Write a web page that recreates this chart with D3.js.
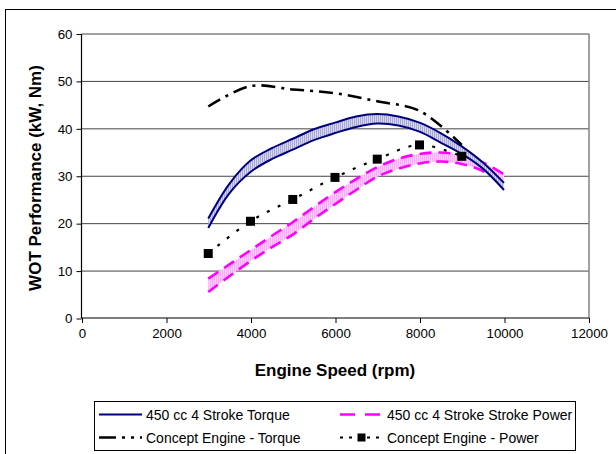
<!DOCTYPE html>
<html>
<head>
<meta charset="utf-8">
<script src="https://cdn.jsdelivr.net/npm/d3@7"></script>
<style>
  html, body { margin: 0; padding: 0; background: #fff; }
  svg { display: block; font-family: "Liberation Sans", Arial, sans-serif; }
</style>
</head>
<body>
<svg id="chart" width="616" height="454"></svg>
<script>
// ---- data ----
const rpm = [3000, 3500, 4000, 4500, 5000, 5500, 6000, 6500, 7000, 7500, 8000, 8500, 9000, 9500, 10000];
const torque450Upper = [21.0, 28.3, 33.2, 35.8, 37.8, 39.8, 41.2, 42.5, 43.0, 42.5, 41.2, 39.0, 36.2, 32.8, 28.5];
const torque450Lower = [19.0, 26.3, 30.8, 33.5, 35.5, 37.5, 39.0, 40.3, 41.0, 40.6, 39.3, 37.0, 34.6, 31.5, 27.0];
const power450Upper = [8.3, 11.3, 14.3, 17.3, 20.2, 23.4, 26.5, 29.3, 31.8, 33.6, 34.6, 34.9, 34.3, 32.8, 30.3];
const power450Lower = [5.5, 8.8, 12.0, 14.9, 17.6, 20.9, 24.0, 27.0, 29.8, 31.5, 32.6, 33.0, 32.5, 31.0, 28.2];
const conceptRpm = [3000, 4000, 5000, 6000, 7000, 8000, 9000];
const conceptTorque = [44.6, 48.9, 48.2, 47.4, 45.7, 43.7, 36.5];
const conceptPower = [13.6, 20.4, 25.0, 29.65, 33.5, 36.5, 34.1];
const xTicks = [0, 2000, 4000, 6000, 8000, 10000, 12000];
const yTicks = [0, 10, 20, 30, 40, 50, 60];
const seriesNames = ["450 cc 4 Stroke Torque", "450 cc 4 Stroke Stroke Power", "Concept Engine - Torque", "Concept Engine - Power"];

// ---- layout ----
const svg = d3.select("#chart");
const pL = 81.5, pR = 588.5, pT = 33.5, pB = 318;
const x = d3.scaleLinear().domain([0, 12000]).range([pL, pR]);
const y = d3.scaleLinear().domain([0, 60]).range([pB, pT]);

// outer chart border (only left/top visible)
svg.append("rect").attr("x", 5.5).attr("y", 9.5).attr("width", 700).attr("height", 600)
  .attr("fill", "#fff").attr("stroke", "#000").attr("stroke-width", 1);

// patterns
const defs = svg.append("defs");
const pBlue = defs.append("pattern").attr("id", "hatchBlue").attr("patternUnits", "userSpaceOnUse")
  .attr("width", 2).attr("height", 4);
pBlue.append("rect").attr("width", 2).attr("height", 4).attr("fill", "#d6d6f0");
pBlue.append("rect").attr("width", 1).attr("height", 4).attr("fill", "#a9a9d6");
const pPink = defs.append("pattern").attr("id", "hatchPink").attr("patternUnits", "userSpaceOnUse")
  .attr("width", 2).attr("height", 4);
pPink.append("rect").attr("width", 2).attr("height", 4).attr("fill", "#ffd6ff");
pPink.append("rect").attr("width", 1).attr("height", 4).attr("fill", "#ffa6ff");

// gridlines
svg.append("g").selectAll("line").data(yTicks.filter(d => d > 0)).join("line")
  .attr("x1", pL).attr("x2", pR).attr("y1", d => y(d) + 0.5).attr("y2", d => y(d) + 0.5)
  .attr("stroke", "#444").attr("stroke-width", 1);
// plot right border
svg.append("line").attr("x1", pR + 0.5).attr("x2", pR + 0.5).attr("y1", pT).attr("y2", pB)
  .attr("stroke", "#444");

// axes
const yAxis = d3.axisLeft(y).tickValues(yTicks).tickSize(5).tickPadding(4);
const gy = svg.append("g").attr("transform", `translate(${pL},0.5)`).call(yAxis);
const xAxis = d3.axisBottom(x).tickValues(xTicks).tickFormat(d3.format("d")).tickSize(5).tickPadding(6);
const gx = svg.append("g").attr("transform", `translate(0.5,${pB})`).call(xAxis);
[gx, gy].forEach(g => {
  g.select(".domain").attr("stroke", "#000").attr("stroke-width", 1.2);
  g.selectAll(".tick line").attr("stroke", "#000");
  g.selectAll(".tick text").attr("fill", "#000").attr("font-size", "13.3px")
    .attr("font-family", "Liberation Sans, Arial, sans-serif");
});
gx.select(".domain").attr("d", `M${pL},0H${pR}`);
gy.select(".domain").attr("d", `M0,${pB}V${pT}`);

// axis titles
svg.append("text").attr("x", (pL + pR) / 2).attr("y", 376).attr("text-anchor", "middle")
  .attr("font-size", "17px").attr("font-weight", "bold").text("Engine Speed (rpm)");
svg.append("text").attr("transform", `translate(41,178) rotate(-90)`).attr("text-anchor", "middle")
  .attr("font-size", "17px").attr("font-weight", "bold").text("WOT Performance (kW, Nm)");

// ---- series ----
const curve = d3.curveCatmullRom.alpha(0.5);
const area = (up, lo) => d3.area().x((d, i) => x(rpm[i])).y0((d, i) => y(lo[i])).y1((d, i) => y(up[i])).curve(curve)(rpm);
const line = (xs, vs) => d3.line().x((d, i) => x(xs[i])).y((d, i) => y(vs[i])).curve(curve)(xs);

// 450 power band
svg.append("path").attr("d", area(power450Upper, power450Lower)).attr("fill", "url(#hatchPink)");
[power450Upper, power450Lower].forEach(vs => {
  svg.append("path").attr("d", line(rpm, vs)).attr("fill", "none").attr("stroke", "#ff00ff")
    .attr("stroke-width", 2.6).attr("stroke-dasharray", "12,7");
});

// 450 torque band
svg.append("path").attr("d", area(torque450Upper, torque450Lower)).attr("fill", "url(#hatchBlue)");
[torque450Upper, torque450Lower].forEach(vs => {
  svg.append("path").attr("d", line(rpm, vs)).attr("fill", "none").attr("stroke", "#000080")
    .attr("stroke-width", 2);
});

// concept torque
svg.append("path").attr("d", line(conceptRpm, conceptTorque)).attr("fill", "none").attr("stroke", "#000")
  .attr("stroke-width", 2.6).attr("stroke-dasharray", "14,6,3,6");

// concept power
svg.append("path").attr("d", line(conceptRpm, conceptPower)).attr("fill", "none").attr("stroke", "#000")
  .attr("stroke-width", 2.2).attr("stroke-dasharray", "3,9");
svg.append("g").selectAll("rect").data(conceptRpm).join("rect")
  .attr("x", d => x(d) - 4.5).attr("y", (d, i) => y(conceptPower[i]) - 4.5)
  .attr("width", 9).attr("height", 9).attr("fill", "#000");

// ---- legend ----
const lg = svg.append("g");
lg.append("rect").attr("x", 94.5).attr("y", 401.5).attr("width", 481).attr("height", 49)
  .attr("fill", "#fff").attr("stroke", "#000").attr("stroke-width", 1);
const legendItems = [
  {name: seriesNames[0], lx: 99, ly: 414.5, tx: 146, stroke: "#000080", w: 2, dash: null, marker: false},
  {name: seriesNames[1], lx: 340, ly: 414.5, tx: 387, stroke: "#ff00ff", w: 2.6, dash: "15,10", marker: false},
  {name: seriesNames[2], lx: 99, ly: 437.5, tx: 146, stroke: "#000", w: 2.6, dash: "17,6,3,6,3,6", marker: false},
  {name: seriesNames[3], lx: 340, ly: 437.5, tx: 387, stroke: "#000", w: 2.2, dash: "3,6", marker: true}
];
legendItems.forEach(it => {
  lg.append("line").attr("x1", it.lx).attr("x2", it.lx + 43).attr("y1", it.ly).attr("y2", it.ly)
    .attr("stroke", it.stroke).attr("stroke-width", it.w).attr("stroke-dasharray", it.dash);
  if (it.marker) {
    lg.append("rect").attr("x", it.lx + 21.5 - 4).attr("y", it.ly - 4).attr("width", 8).attr("height", 8).attr("fill", "#000");
  }
  lg.append("text").attr("x", it.tx).attr("y", it.ly + 5).attr("font-size", "14px").attr("fill", "#000").text(it.name);
});
</script>
</body>
</html>
